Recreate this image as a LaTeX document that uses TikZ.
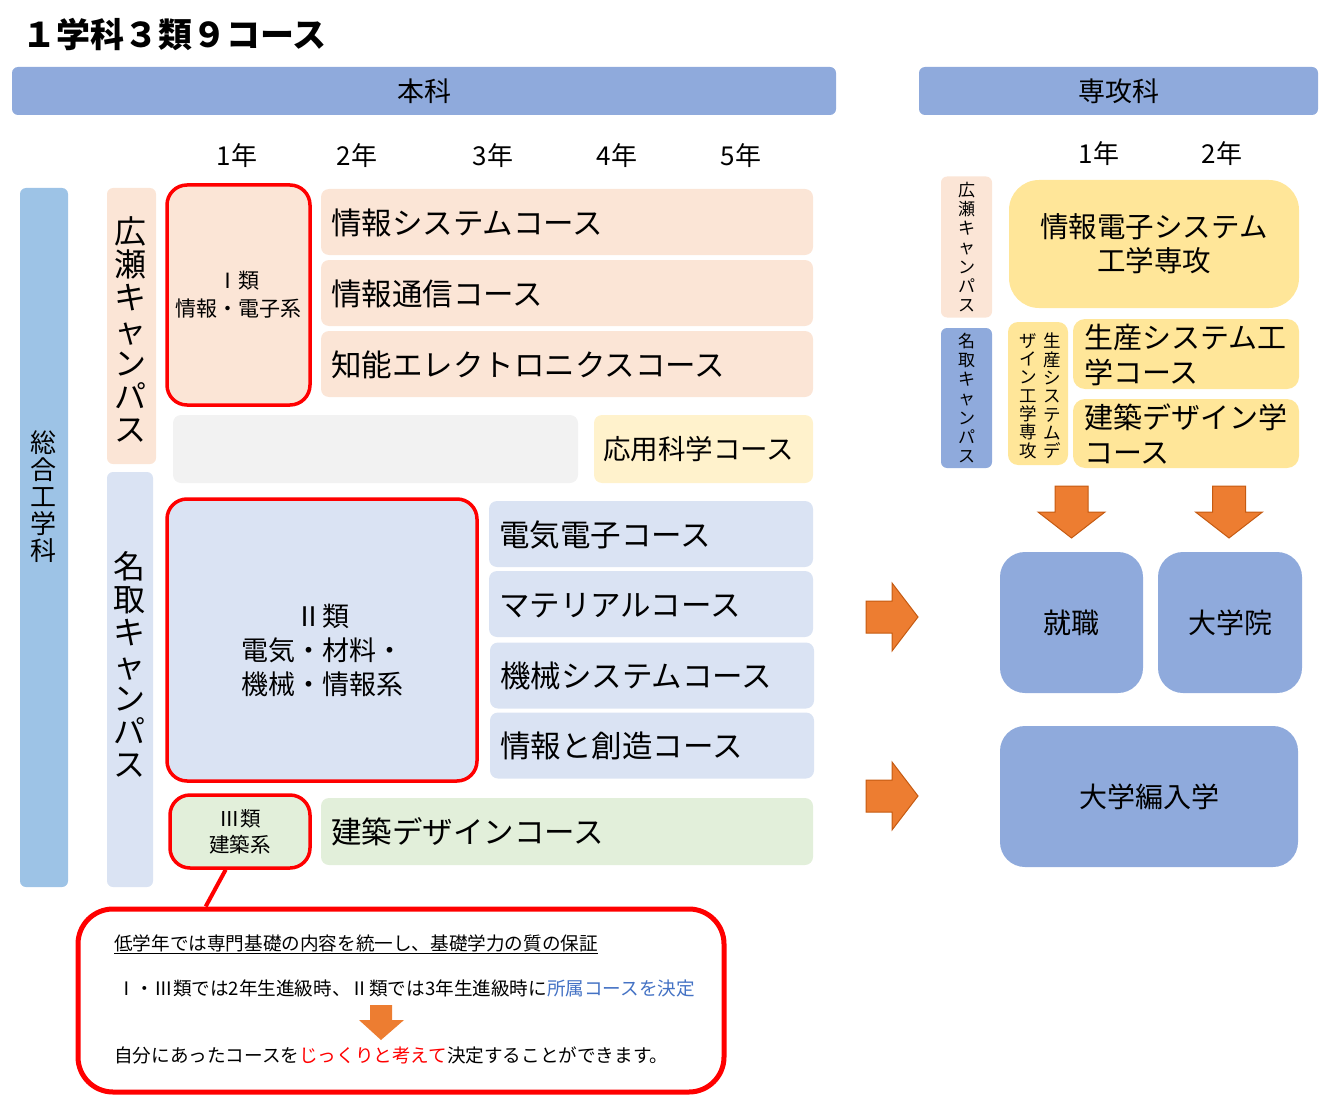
\documentclass[tikz,border=0pt]{standalone}
\usepackage{fontspec}
\setmainfont{Noto Sans CJK JP}
\usetikzlibrary{calc}
\definecolor{honka}{HTML}{8FAADC}
\definecolor{sougou}{HTML}{9DC3E6}
\definecolor{peach}{HTML}{FBE5D6}
\definecolor{lblue}{HTML}{DAE3F3}
\definecolor{lgray}{HTML}{F2F2F2}
\definecolor{cream}{HTML}{FFF2CC}
\definecolor{gold}{HTML}{FFE699}
\definecolor{mint}{HTML}{E2EFDA}
\definecolor{arroworange}{HTML}{ED7D31}
\definecolor{arrowedge}{HTML}{C55A11}
\definecolor{linkblue}{HTML}{4472C4}

\begin{document}
\begin{tikzpicture}[x=1pt,y=-1pt,
	every node/.style={inner sep=0pt},
	bandbox/.style={fill=#1,rounded corners=6pt,minimum height=48pt,font=\fontsize{27}{32}\selectfont},
	yearlabel/.style={font=\fontsize{26}{30}\selectfont},
	vtext/.style={align=center,font=\fontsize{32}{33}\selectfont},
	classbox/.style={fill=#1,draw=red,line width=3.5pt,rounded corners=20pt,align=center,font=\fontsize{21}{28}\selectfont},
	coursebox/.style={fill=#1,rounded corners=8pt,inner xsep=10pt,text height=27pt,align=left,font=\fontsize{30.5}{36}\selectfont},
	hcourse/.style={coursebox=#1,text width=472pt,minimum height=66pt},
	ncourse/.style={coursebox=lblue,text width=304pt,minimum height=66pt},
	exitbox/.style={fill=honka,rounded corners=25pt,minimum height=141pt,font=\fontsize{28}{34}\selectfont},
	notetext/.style={anchor=west,font=\fontsize{18.6}{22}\selectfont},
	blockarrow/.style={fill=arroworange,draw=arrowedge,line width=1pt}]
	\useasboundingbox (0,0) rectangle (1330,1110);
	\node[anchor=west,font=\fontsize{34}{40}\selectfont\bfseries] (title) at (22,34) {１学科３類９コース};

	% headers
	\node[bandbox=honka,minimum width=824pt] (honka) at (424,91) {本科};
	\node[bandbox=honka,minimum width=399pt] (senkou) at (1118.5,91) {専攻科};
	\foreach \x/\yr in {237/1,357/2,493/3,617/4,741/5}
		\node[yearlabel] (y\yr) at (\x,156) {\yr{}年};
	\foreach \x/\yr in {1099/1,1222/2}
		\node[yearlabel] (r\yr) at (\x,154) {\yr{}年};

	% campuses
	\node[bandbox=sougou,minimum width=48pt,minimum height=699pt] (sougou) at (44,537.5) {};
	\node[vtext,font=\fontsize{26}{27}\selectfont] (sougoutext) at (43,497) {総\\合\\工\\学\\科};
	\node[bandbox=peach,minimum width=49pt,minimum height=276pt] (hirose) at (131.5,326) {};
	\node[vtext] (hirosetext) at (130,329) {広\\瀬\\キ\\ャ\\ン\\パ\\ス};
	\node[bandbox=lblue,minimum width=46pt,minimum height=415pt] (natori) at (130,679.5) {};
	\node[vtext] (natoritext) at (129,664) {名\\取\\キ\\ャ\\ン\\パ\\ス};

	% classes and courses
	\node[classbox=peach,minimum width=143pt,minimum height=220pt] (class1) at (238.5,295) {Ⅰ類\\情報・電子系};
	\node[hcourse=peach] (c1) at (567,222) {情報システムコース};
	\node[hcourse=peach] (c2) at (567,293) {情報通信コース};
	\node[hcourse=peach] (c3) at (567,364) {知能エレクトロニクスコース};
	\node[fill=lgray,rounded corners=8pt,minimum width=405pt,minimum height=68pt] (blank) at (375.5,449) {};
	\node[coursebox=cream,inner xsep=9pt,text width=201pt,text height=24pt,minimum height=68pt,font=\fontsize{27.5}{33}\selectfont] (ouyou) at (703.5,449) {応用科学コース};

	\node[classbox=lblue,minimum width=310pt,minimum height=282pt] (class2) at (322,640) {};
	\node[align=center,font=\fontsize{27}{34}\selectfont] (class2text) at (322,650) {Ⅱ類\\電気・材料・\\機械・情報系};
	\node[ncourse] (d1) at (651,534) {電気電子コース};
	\node[ncourse] (d2) at (651,604) {マテリアルコース};
	\node[ncourse] (d3) at (652,675.5) {機械システムコース};
	\node[ncourse] (d4) at (652,745.5) {情報と創造コース};

	\node[classbox=mint,minimum width=140pt,minimum height=73pt,font=\fontsize{20.5}{26}\selectfont] (class3) at (240,831.5) {Ⅲ類\\建築系};
	\node[hcourse=mint,minimum height=67pt] (e1) at (567,831.5) {建築デザインコース};

	% note
	\node[draw=red,line width=5pt,rounded corners=35pt,minimum width=646pt,minimum height=183pt] (note) at (401,1000.5) {};
	\draw[red,line width=4pt] ($(class3.south west)!0.4!(class3.south east)$) -- ($(note.north west)!0.2!(note.north east)$);
	\node[notetext] (note1) at (114,944) {\underline{低学年では専門基礎の内容を統一し、基礎学力の質の保証}};
	\node[notetext] (note2) at (117,988) {Ⅰ・Ⅲ類では2年生進級時、Ⅱ類では3年生進級時に\textcolor{linkblue}{所属コースを決定}};
	\node[notetext] (note3) at (114,1055) {自分にあったコースを\textcolor{red}{じっくりと考えて}決定することができます。};
	\fill[arroworange] (370,1005) -- (392,1005) -- (392,1020) -- (404,1020) -- (381,1040) -- (359,1020) -- (370,1020) -- cycle;

	% advanced course
	\node[bandbox=peach,minimum width=51pt,minimum height=141pt,align=center,font=\fontsize{17}{19.3}\selectfont] (hirose2) at (966.5,247) {広\\瀬\\キ\\ャ\\ン\\パ\\ス};
	\node[bandbox=honka,minimum width=51pt,minimum height=140pt,align=center,font=\fontsize{17}{19.3}\selectfont] (natori2) at (966.5,398) {名\\取\\キ\\ャ\\ン\\パ\\ス};
	\node[fill=gold,rounded corners=30pt,minimum width=290pt,minimum height=128pt,align=center,font=\fontsize{28.5}{34}\selectfont] (sjouhou) at (1154,244) {情報電子システム\\工学専攻};
	\node[fill=gold,rounded corners=10pt,minimum width=60pt,minimum height=143pt] (sseisan) at (1038,393.5) {};
	\node[vtext,font=\fontsize{17.5}{18.3}\selectfont] (sseisan1) at (1052,396) {生\\産\\シ\\ス\\テ\\ム\\デ};
	\node[vtext,font=\fontsize{17.5}{18.3}\selectfont] (sseisan2) at (1028,396) {ザ\\イ\\ン\\工\\学\\専\\攻};
	\node[coursebox=gold,rounded corners=12pt,inner xsep=11pt,text width=204pt,text height=26pt,minimum height=70pt,font=\fontsize{29}{35}\selectfont] (cseisan) at (1186,354) {生産システム工\\学コース};
	\node[coursebox=gold,rounded corners=12pt,inner xsep=11pt,text width=204pt,text height=26pt,minimum height=69pt,font=\fontsize{29}{35}\selectfont] (ckenchiku) at (1186,433.5) {建築デザイン学\\コース};

	% exits
	\node[exitbox,minimum width=143pt] (shushoku) at (1071.5,622.5) {就職};
	\node[exitbox,minimum width=144pt] (daigakuin) at (1230,622.5) {大学院};
	\node[exitbox,minimum width=298pt] (hennyu) at (1149,796.5) {大学編入学};
	\foreach \x in {1071.5,1229}
		\draw[blockarrow] (\x-16.5,486) -- (\x+16.5,486) -- (\x+16.5,512) -- (\x+33.5,512) -- (\x,538) -- (\x-33.5,512) -- (\x-16.5,512) -- cycle;
	\foreach \y in {617,796}
		\draw[blockarrow] (866,\y-16) -- (892,\y-16) -- (892,\y-34) -- (918,\y) -- (892,\y+34) -- (892,\y+16) -- (866,\y+16) -- cycle;
\end{tikzpicture}
\end{document}
